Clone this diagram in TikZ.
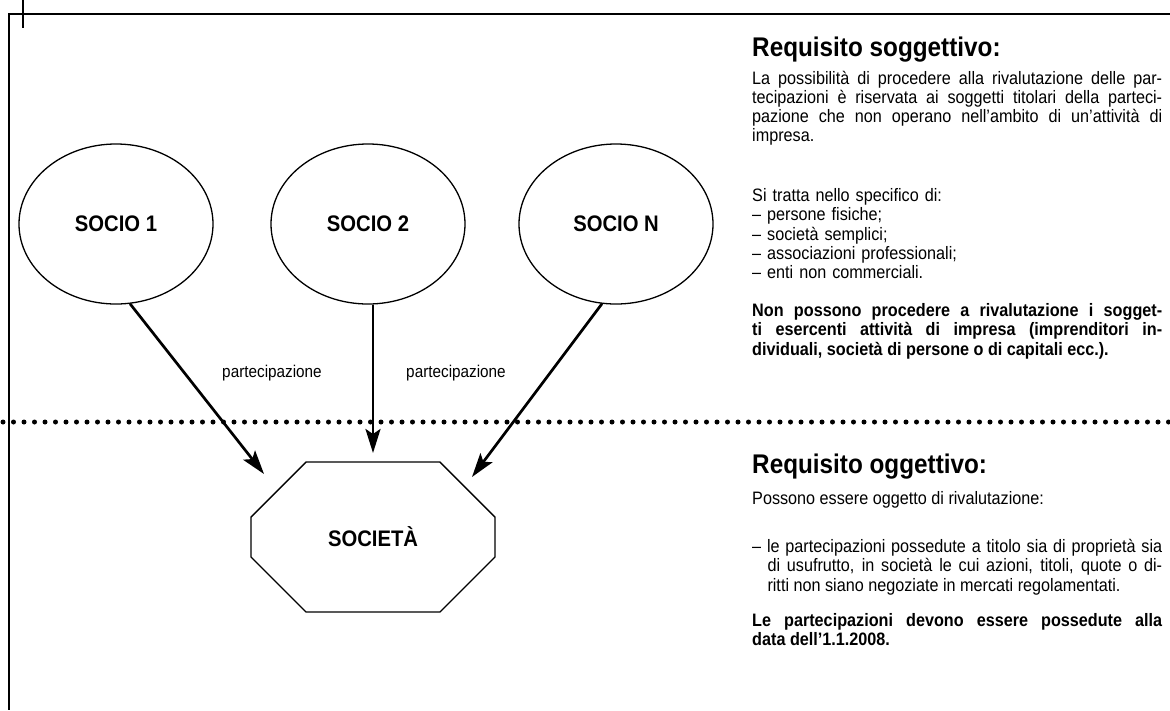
\documentclass[tikz,border=0pt]{standalone}
\usepackage{fontspec}
\setmainfont{Liberation Sans}[FakeStretch=0.9]
\usetikzlibrary{arrows.meta,shapes.geometric,shapes.misc}

\begin{document}
\begin{tikzpicture}[x=1pt,y=-1pt,
  socio/.style={ellipse,draw,line width=1.3pt,minimum width=194pt,minimum height=160pt,inner sep=0pt,font=\fontsize{22.5}{24}\selectfont\bfseries},
  freccia/.style={line width=2.7pt,-{Stealth[length=24pt,width=15pt,inset=5pt]}},
  etichetta/.style={inner sep=0pt,font=\fontsize{17}{19}\selectfont},
  titolo/.style={anchor=base west,inner sep=0pt,font=\fontsize{27}{30}\selectfont\bfseries},
  testo/.style={anchor=base west,inner sep=0pt,text width=410pt,align=justify,font=\fontsize{18}{19.3}\selectfont}]
  \useasboundingbox (0,0) rectangle (1170,710);
  % cornice
  \draw[line width=1.5pt] (8,14) -- (1170,14);
  \draw[line width=1.5pt] (9,14) -- (9,710);
  \draw[line width=1.5pt] (23,0) -- (23,28);
  % soci e societa
  \node[socio] (s1) at (116,224) {SOCIO 1};
  \node[socio] (s2) at (368,224) {SOCIO 2};
  \node[socio] (sn) at (616,224) {SOCIO N};
  \node[draw,line width=1.3pt,chamfered rectangle,chamfered rectangle xsep=48pt,chamfered rectangle ysep=48pt,
        minimum width=244pt,minimum height=150pt,inner sep=0pt,font=\fontsize{22.5}{24}\selectfont\bfseries] (soc) at (373,537) {SOCIETÀ};
  % frecce
  \coordinate (p1) at (264,474);
  \coordinate (p2) at (373,453);
  \coordinate (pn) at (472,477);
  \draw[freccia] (s1.-80) -- (p1);
  \draw[freccia] (s2.south -| p2) -- (p2);
  \draw[freccia] (sn.-100) -- (pn);
  \node[etichetta] (l1) at (272,373) {partecipazione};
  \node[etichetta] (l2) at (456,373) {partecipazione};
  % linea punteggiata
  \draw[line width=5pt,line cap=round,dash pattern=on 0pt off 10.5pt] (3,422) -- (1170,422);
  % requisito soggettivo
  \node[titolo] (t1) at (752,56.5) {Requisito soggettivo:};
  \node[testo] (a1) at (752,84) {La possibilità di procedere alla rivalutazione delle par-\linebreak
    tecipazioni è riservata ai soggetti titolari della parteci-\linebreak
    pazione che non operano nell'ambito di un'attività di\linebreak impresa.};
  \node[testo,align=left] (a2) at (752,201.5) {Si tratta nello specifico di:\\
    – persone fisiche;\\ – società semplici;\\ – associazioni professionali;\\ – enti non commerciali.};
  \node[testo,font=\fontsize{18}{19.3}\selectfont\bfseries] (a3) at (752,316.5) {Non possono procedere a rivalutazione i sogget-\linebreak
    ti esercenti attività di impresa (imprenditori in-\linebreak
    dividuali, società di persone o di capitali ecc.).};
  % requisito oggettivo
  \node[titolo] (t2) at (752,473.5) {Requisito oggettivo:};
  \node[testo] (b1) at (752,504.5) {Possono essere oggetto di rivalutazione:};
  \node[testo] (b2) at (752,552.5) {\hangindent=0.85em\hangafter=1 – le partecipazioni possedute a titolo sia di proprietà sia\linebreak
    di usufrutto, in società le cui azioni, titoli, quote o di-\linebreak
    ritti non siano negoziate in mercati regolamentati.\par};
  \node[testo,font=\fontsize{18}{19.3}\selectfont\bfseries] (b3) at (752,626) {Le partecipazioni devono essere possedute alla\linebreak
    data dell'1.1.2008.};
\end{tikzpicture}
\end{document}
